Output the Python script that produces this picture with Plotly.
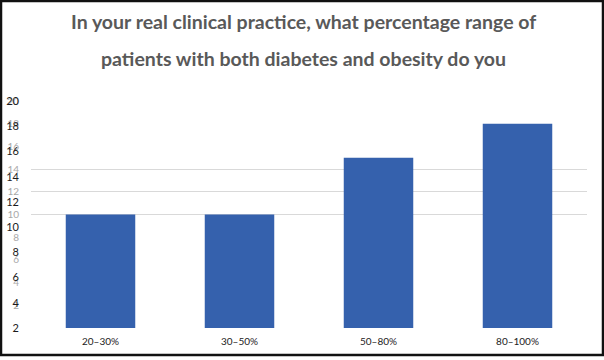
import plotly.graph_objects as go

categories = ["20–30%", "30–50%", "50–80%", "80–100%"]
values = [10, 10, 15, 18]
title_lines = ["In your real clinical practice, what percentage range of",
               "patients with both diabetes and obesity do you"]
gray_ticks = [2, 4, 6, 8, 10, 12, 14, 16, 18, 20]
black_ticks = [2, 4, 6, 8, 10, 12, 14, 16, 18, 20]
grid_vals = [10, 12, 14, 20]

fig = go.Figure()
fig.add_trace(go.Bar(x=categories, y=values, marker=dict(color="#3561AD", line=dict(width=0)),
                     yaxis="y", showlegend=False))
# invisible traces to activate overlay axes
fig.add_trace(go.Scatter(x=[categories[0]], y=[10], yaxis="y2", mode="markers",
                         marker=dict(opacity=0), showlegend=False, hoverinfo="skip"))
fig.add_trace(go.Scatter(x=[categories[0]], y=[10], yaxis="y3", mode="markers",
                         marker=dict(opacity=0), showlegend=False, hoverinfo="skip"))

fig.update_layout(
    width=604, height=360,
    margin=dict(l=31, r=17, t=101, b=32, autoexpand=False),
    paper_bgcolor="white", plot_bgcolor="white",
    bargap=0.5,
    font=dict(family="Lato, sans-serif"),
    xaxis=dict(showgrid=False, showline=False, zeroline=False, automargin=False,
               tickfont=dict(size=10, color="#222222"), ticks="", ticklabelstandoff=6),
    yaxis=dict(range=[0, 20], tickvals=grid_vals, showticklabels=False, showgrid=True,
               automargin=False,
               gridcolor="#D9D9D9", gridwidth=1, zeroline=False, showline=False, ticks=""),
    yaxis2=dict(range=[0, 20], overlaying="y", tickvals=gray_ticks, showgrid=False,
                zeroline=False, showline=False, ticks="", side="left", automargin=False,
                tickfont=dict(size=10, color="#A8A8A8"), ticklabelstandoff=11),
    yaxis3=dict(range=[2, 20], overlaying="y", tickvals=black_ticks, showgrid=False,
                zeroline=False, showline=False, ticks="", side="left", automargin=False,
                tickfont=dict(size=11, color="#1A1A1A"), ticklabelstandoff=11),
)

for i, line in enumerate(title_lines):
    fig.add_annotation(text=line, xref="paper", yref="paper", x=0.49, xanchor="center",
                       y=[1 + 79 / 227, 1 + 43 / 227][i], yanchor="middle", showarrow=False,
                       font=dict(size=19.5, color="#595959", family="Lato, sans-serif", weight="bold"))

# outer frame
fig.add_shape(type="rect", xref="paper", yref="paper", x0=-30 / 556, x1=1 + 16 / 556,
              y0=-27 / 227, y1=1 + 100 / 227, line=dict(color="#111111", width=2.5),
              fillcolor="rgba(0,0,0,0)", layer="above")

fig.write_html("out.html", config={"displayModeBar": False},
               post_script="document.body.style.margin='0';document.body.style.overflow='hidden';")
